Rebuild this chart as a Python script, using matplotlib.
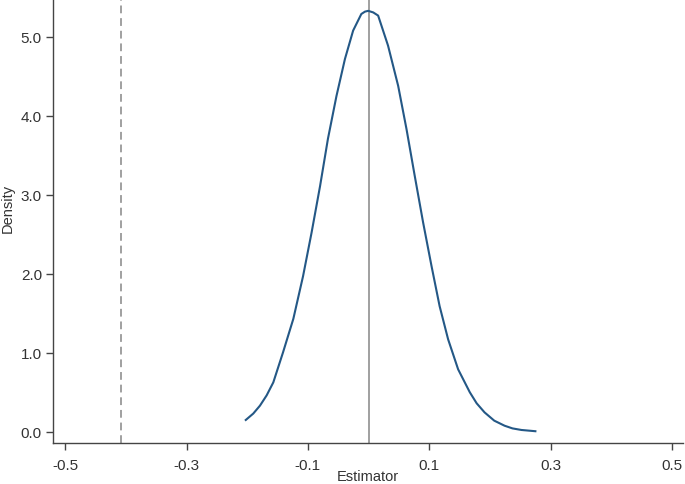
import matplotlib
matplotlib.use("Agg")
import matplotlib.pyplot as plt

# Density curve
est_x = [-0.2037, -0.190, -0.179, -0.168, -0.157, -0.141, -0.124, -0.108, -0.094, -0.080, -0.067,
         -0.053, -0.039, -0.0255, -0.012, -0.006, -0.0007, 0.0076, 0.0157, 0.032,
         0.0487, 0.0625, 0.076, 0.0898, 0.1036, 0.117, 0.131, 0.1475, 0.1667, 0.178,
         0.191, 0.207, 0.224, 0.237, 0.2518, 0.2765]
density = [0.14, 0.23, 0.33, 0.46, 0.625, 1.005, 1.43, 1.97, 2.52, 3.11, 3.71,
           4.25, 4.72, 5.08, 5.29, 5.32, 5.33, 5.31, 5.27, 4.89,
           4.38, 3.83, 3.24, 2.65, 2.10, 1.59, 1.17, 0.79, 0.50, 0.36,
           0.245, 0.14, 0.076, 0.042, 0.022, 0.005]

true_value = 0.0
observed_value = -0.408

x_ticks = [-0.5, -0.3, -0.1, 0.1, 0.3, 0.5]
x_ticklabels = ["-0.5", "-0.3", "-0.1", "0.1", "0.3", "0.5"]
y_ticks = [0, 1, 2, 3, 4, 5]
y_ticklabels = ["0.0", "1.0", "2.0", "3.0", "4.0", "5.0"]

plt.rcParams['font.family'] = ['Liberation Sans', 'DejaVu Sans']

fig = plt.figure(figsize=(6.85, 4.85), dpi=100)
ax = fig.add_axes([53/685, 41/485, 630/685, 444/485])

ax.axvline(true_value, color="#a0a0a0", lw=1.4, zorder=1)
ax.axvline(observed_value, color="#a0a0a0", lw=1.4, ls=(0, (4, 2.5)), zorder=1)
ax.plot(est_x, density, color="#245886", lw=1.5, zorder=2,
        solid_capstyle="butt", solid_joinstyle="round")

ax.set_xlim(-0.52, 0.518)
ax.set_ylim(-0.143, 5.48)

ax.set_xticks(x_ticks)
ax.set_xticklabels(x_ticklabels)
ax.set_yticks(y_ticks)
ax.set_yticklabels(y_ticklabels)

for s in ["top", "right"]:
    ax.spines[s].set_visible(False)
for s in ["left", "bottom"]:
    ax.spines[s].set_color("#444444")
    ax.spines[s].set_linewidth(1.0)

ax.tick_params(axis="both", direction="out", length=5, width=1.0, color="#444444",
               labelsize=11, labelcolor="#333333")
ax.tick_params(axis="x", pad=6)
ax.tick_params(axis="y", pad=3)

ax.set_xlabel("Estimator", fontsize=10.5, color="#333333")
ax.set_ylabel("Density", fontsize=10.5, color="#333333")
ax.xaxis.set_label_coords(0.5, -0.058)
ax.yaxis.set_label_coords(-0.061, 0.53)

fig.savefig("out.png", dpi=100)
